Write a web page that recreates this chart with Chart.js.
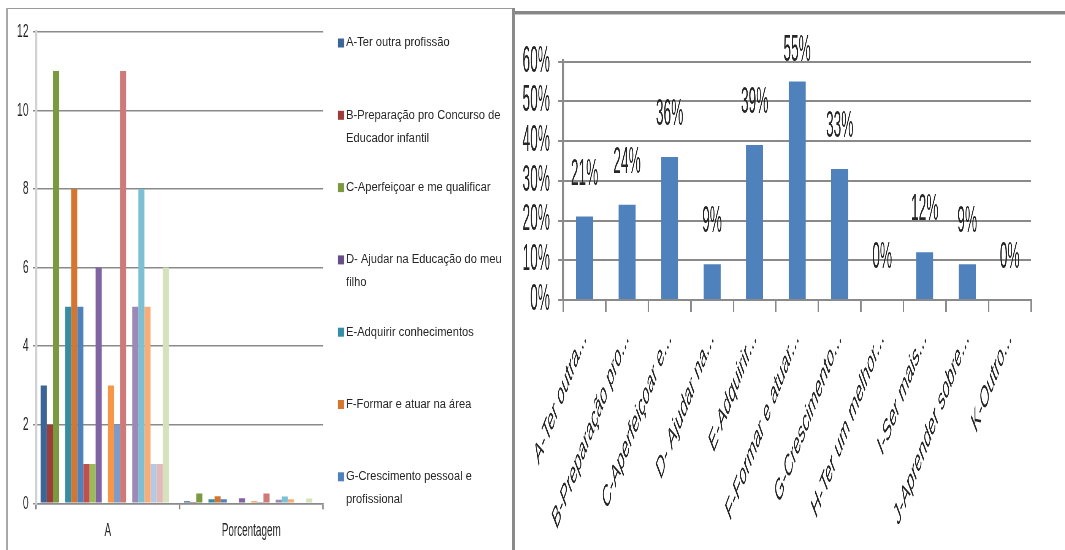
<!DOCTYPE html>
<html>
<head>
<meta charset="utf-8">
<script src="https://cdn.jsdelivr.net/npm/chart.js@4.4.1/dist/chart.umd.min.js"></script>
<style>
  html, body { margin: 0; padding: 0; background: #fff; width: 1065px; height: 550px; overflow: hidden; }
  .wrap { position: absolute; transform-origin: 0 0; }
  .rule { position: absolute; }
</style>
</head>
<body>
<!-- panel frames -->
<div class="rule" style="left:7px;top:8px;width:506px;height:1px;background:#9a9a9a"></div>
<div class="rule" style="left:6px;top:8px;width:2px;height:542px;background:#a8a8a8"></div>
<div class="rule" style="left:512px;top:8px;width:3px;height:542px;background:#8a8a8a"></div>
<div class="rule" style="left:515px;top:11px;width:550px;height:3px;background:#878787"></div>
<div class="rule" style="left:515px;top:14px;width:550px;height:1px;background:#c6c6c6"></div>

<div id="leftWrap" class="wrap" style="left:0;top:0"><canvas id="countChart" width="931" height="550"></canvas></div>
<div id="rightWrap" class="wrap" style="left:515px;top:15px"><canvas id="shareChart" width="1447" height="535"></canvas></div>

<script>
// ---- data ----
const groupLabels = ['A', 'Porcentagem'];

const reasonNames = [
  'A-Ter outra profissão',
  'B-Preparação pro Concurso de Educador infantil',
  'C-Aperfeiçoar e me qualificar',
  'D- Ajudar na Educação do meu filho',
  'E-Adquirir conhecimentos',
  'F-Formar e atuar na área',
  'G-Crescimento pessoal e profissional',
  'H-Ter um melhor',
  'I-Ser mais',
  'J-Aprender sobre',
  'K-Outro'
];

// counts per reason (first and second block of series)
const countsFirst  = [3, 2, 11, 0, 5, 8, 5, 1, 1, 6, 0];
const countsSecond = [3, 2, 11, 0, 5, 8, 5, 1, 1, 6, 0];
// shares per reason in the "Porcentagem" group
const sharesFirst  = [0.05, 0.03, 0.25, 0, 0.10, 0.18, 0.10, 0.02, 0.02, 0.13, 0];
const sharesSecond = [0.05, 0.03, 0.25, 0, 0.09, 0.17, 0.10, 0.02, 0.02, 0.12, 0];

const seriesColors = [
  '#3B6597', '#9C3D3A', '#7A9A40', '#664F86', '#368EA5', '#D4762F',
  '#4F81BD', '#C0504D', '#9BBB59', '#8064A2', '#4BACC6', '#F79646',
  '#7D9CC9', '#CE7A78', '#B4CB86', '#9B89B8', '#7CC0D3', '#F9AC75',
  '#B7C8E3', '#E3B8B7', '#D5E2BC', '#CBC1DA'
];

const axisLabels = [
  'A-Ter outra...', 'B-Preparação pro...', 'C-Aperfeiçoar e...', 'D- Ajudar na...',
  'E-Adquirir...', 'F-Formar e atuar...', 'G-Crescimento...', 'H-Ter um melhor...',
  'I-Ser mais...', 'J-Aprender sobre...', 'K-Outro...'
];
const axisShares = [0.21, 0.24, 0.36, 0.09, 0.39, 0.55, 0.33, 0, 0.12, 0.09, 0];

const leftTicks = [0, 2, 4, 6, 8, 10, 12];
const rightTicks = [0, 0.1, 0.2, 0.3, 0.4, 0.5, 0.6];

// ---- layout constants ----
const FONT = '"Liberation Sans", Arial, sans-serif';
const LEFT_SQUEEZE = 512 / 931;     // canvas drawn narrow, like condensed type
const RIGHT_SQUEEZE = 550 / 1447;
document.getElementById('leftWrap').style.transform = `scaleX(${LEFT_SQUEEZE})`;
document.getElementById('rightWrap').style.transform = `scaleX(${RIGHT_SQUEEZE})`;

const seriesNames = reasonNames.concat(reasonNames);
const counts = countsFirst.concat(countsSecond);
const shares = sharesFirst.concat(sharesSecond);

// legend beside the plot, wrapped text, only the entries that fit
const sideLegend = {
  id: 'sideLegend',
  afterDraw(chart, args, o) {
    const ctx = chart.ctx;
    const k = o.squeeze;
    ctx.save();
    ctx.font = `${o.fontSize}px ${FONT}`;
    ctx.textBaseline = 'middle';
    ctx.textAlign = 'left';
    const maxW = o.maxWidth / o.textScale;
    chart.data.datasets.slice(0, o.count).forEach((ds, i) => {
      const y = o.top + i * o.step;
      const words = ds.label.split(' ');
      const lines = [];
      let cur = '';
      words.forEach(w => {
        const t = cur ? cur + ' ' + w : w;
        if (cur && ctx.measureText(t).width > maxW) { lines.push(cur); cur = w; }
        else cur = t;
      });
      if (cur) lines.push(cur);
      ctx.fillStyle = ds.backgroundColor;
      ctx.fillRect(o.swatchX / k, y - 4.5, o.swatchW / k, 9);
      ctx.fillStyle = '#262626';
      lines.forEach((line, j) => {
        ctx.save();
        ctx.translate(o.textX / k, y + j * o.lineGap);
        ctx.scale(o.textScale / k, 1);
        ctx.fillText(line, 0, 0);
        ctx.restore();
      });
    });
    ctx.restore();
  }
};

// value labels floating above each bar
const barValues = {
  id: 'barValues',
  afterDatasetsDraw(chart, args, o) {
    const ctx = chart.ctx;
    ctx.save();
    ctx.font = `${o.fontSize}px ${FONT}`;
    ctx.fillStyle = '#262626';
    ctx.textAlign = 'center';
    ctx.textBaseline = 'middle';
    const meta = chart.getDatasetMeta(0);
    chart.data.datasets[0].data.forEach((v, i) => {
      const bar = meta.data[i];
      const y = Math.max(bar.y - o.gap, o.minY);
      ctx.fillText(Math.round(v * 100) + '%', bar.x, y);
    });
    ctx.restore();
  }
};

// ---- left: grouped counts ----
new Chart(document.getElementById('countChart'), {
  type: 'bar',
  data: {
    labels: groupLabels,
    datasets: seriesNames.map((name, i) => ({
      label: name,
      data: [counts[i], shares[i]],
      backgroundColor: seriesColors[i],
      borderWidth: 0,
      categoryPercentage: 0.936,
      barPercentage: 1
    }))
  },
  options: {
    responsive: false,
    animation: false,
    layout: { padding: { top: 31.7, right: 931 - 323 / LEFT_SQUEEZE, bottom: 0, left: 0 } },
    plugins: {
      legend: { display: false },
      tooltip: { enabled: false },
      sideLegend: {
        count: 7, squeeze: LEFT_SQUEEZE, fontSize: 12, textScale: 0.93,
        top: 43, step: 72.3, lineGap: 23, swatchX: 338, swatchW: 6, textX: 346, maxWidth: 165
      }
    },
    scales: {
      x: {
        ticks: { font: { family: FONT, size: 18 }, color: '#262626', padding: 11 },
        grid: { drawOnChartArea: false, tickLength: 6, color: '#8a8a8a', lineWidth: 1.5 / LEFT_SQUEEZE },
        border: { color: '#8a8a8a', width: 1.5 },
        afterFit(s) { s.height = 550 - 503.3; }
      },
      y: {
        min: 0, max: 12,
        afterBuildTicks(s) { s.ticks = leftTicks.map(v => ({ value: v })); },
        ticks: { autoSkip: false, font: { family: FONT, size: 19 }, color: '#262626', padding: 8 },
        grid: { color: '#8a8a8a', lineWidth: 1.5, tickLength: 3 / LEFT_SQUEEZE },
        border: { color: '#d2d2d2', width: 2 / LEFT_SQUEEZE },
        afterFit(s) { s.width = 36 / LEFT_SQUEEZE; }
      }
    }
  },
  plugins: [sideLegend]
});

// ---- right: share per reason ----
new Chart(document.getElementById('shareChart'), {
  type: 'bar',
  data: {
    labels: axisLabels,
    datasets: [{
      label: 'Porcentagem',
      data: axisShares,
      backgroundColor: '#4F81BD',
      borderWidth: 0,
      categoryPercentage: 0.4,
      barPercentage: 1
    }]
  },
  options: {
    responsive: false,
    animation: false,
    layout: { padding: { top: 46.7, right: 1447 - (1031 - 515) / RIGHT_SQUEEZE, bottom: 0, left: 0 } },
    plugins: {
      legend: { display: false },
      tooltip: { enabled: false },
      barValues: { fontSize: 36, gap: 42, minY: 36 }
    },
    scales: {
      x: {
        ticks: { autoSkip: false, maxRotation: 45, minRotation: 45, font: { family: FONT, size: 31 }, color: '#262626', padding: 8 },
        grid: { drawOnChartArea: false, tickLength: 12, color: '#8a8a8a', lineWidth: 1.5 / RIGHT_SQUEEZE },
        border: { color: '#8a8a8a', width: 2 },
        afterFit(s) { s.height = 535 - 285; }
      },
      y: {
        min: 0, max: 0.6,
        afterBuildTicks(s) { s.ticks = rightTicks.map(v => ({ value: v })); },
        ticks: { autoSkip: false, font: { family: FONT, size: 36 }, color: '#262626', padding: 22, callback: v => Math.round(v * 100) + '%' },
        grid: { color: '#8a8a8a', lineWidth: 2, tickLength: 5 / RIGHT_SQUEEZE },
        border: { color: '#8a8a8a', width: 2 / RIGHT_SQUEEZE },
        afterFit(s) { s.width = (563.3 - 515) / RIGHT_SQUEEZE; }
      }
    }
  },
  plugins: [barValues]
});
</script>
</body>
</html>
